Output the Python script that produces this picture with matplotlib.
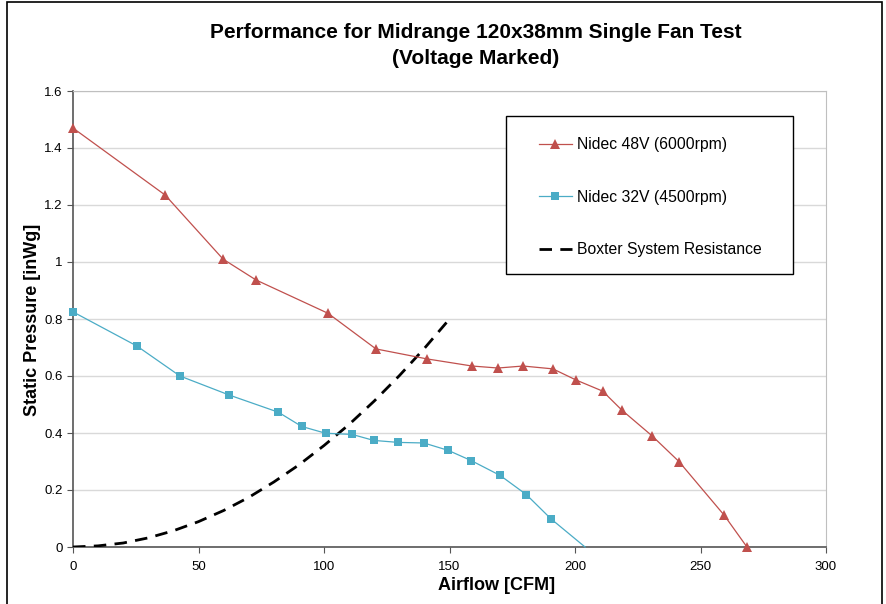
import numpy as np
import matplotlib
matplotlib.use('Agg')
import matplotlib.pyplot as plt
from matplotlib.patches import Rectangle

plt.rcParams['font.family'] = ['Liberation Sans', 'DejaVu Sans']

# Nidec 48V (6000rpm)
cfm_48 = [0, 36.7, 59.8, 72.9, 101.6, 120.7, 141, 159, 169.3, 179.3, 191.2,
          200.4, 211, 218.7, 230.7, 241.4, 259.4, 268.5]
sp_48 = [1.47, 1.235, 1.01, 0.937, 0.82, 0.695, 0.66, 0.635, 0.628, 0.635,
         0.625, 0.586, 0.547, 0.48, 0.39, 0.30, 0.112, 0.0]

# Nidec 32V (4500rpm)
cfm_32 = [0, 25.5, 42.6, 62.3, 81.8, 91.1, 100.7, 111.2, 119.8, 129.6, 139.8,
          149.5, 158.7, 170.2, 180.6, 190.4, 204]
sp_32 = [0.825, 0.705, 0.60, 0.533, 0.473, 0.423, 0.399, 0.395, 0.374, 0.367,
         0.365, 0.339, 0.303, 0.251, 0.184, 0.099, 0.0]

# Boxter system resistance
cfm_sys = [0, 10, 20, 30, 40, 50, 60, 70, 80, 90, 100, 110, 120, 130, 140, 150]
sp_sys = [0, 0.004, 0.014, 0.032, 0.057, 0.089, 0.128, 0.174, 0.228, 0.288,
          0.356, 0.43, 0.512, 0.601, 0.697, 0.80]

red = '#C0504D'
blue = '#4BACC6'
W, H = 886, 604

fig = plt.figure(figsize=(W / 100, H / 100), dpi=100)
ax = fig.add_axes([73 / W, 57 / H, 753 / W, 456 / H])

ax.plot(cfm_48, sp_48, color=red, lw=0.9, marker='^', ms=6.5,
        markeredgewidth=0, clip_on=False, zorder=4, label='Nidec 48V (6000rpm)')
ax.plot(cfm_32, sp_32, color=blue, lw=0.9, marker='s', ms=6,
        markeredgewidth=0, markevery=list(range(len(cfm_32) - 1)),
        clip_on=False, zorder=4, label='Nidec 32V (4500rpm)')
ax.plot(cfm_sys, sp_sys, color='black', lw=2, dashes=(4.5, 3),
        zorder=3, label='Boxter System Resistance')

ax.set_xlim(0, 300)
ax.set_ylim(0, 1.6)
ax.set_xticks(np.arange(0, 301, 50))
ax.set_yticks(np.arange(0, 1.61, 0.2))
ax.set_yticklabels(['0', '0.2', '0.4', '0.6', '0.8', '1', '1.2', '1.4', '1.6'])
ax.grid(axis='y', color='#d9d9d9', lw=1)
ax.set_axisbelow(True)
ax.tick_params(labelsize=9.5, length=4, color='#555555', direction='out')
ax.tick_params(axis='x', pad=6)
for s in ['top', 'right']:
    ax.spines[s].set_color('#bfbfbf')
for s in ['left', 'bottom']:
    ax.spines[s].set_color('#555555')
    ax.spines[s].set_linewidth(1.2)

ax.set_xlabel('Airflow [CFM]', fontsize=13, fontweight='bold')
ax.xaxis.set_label_coords((497 - 73) / 753, -(585 - 547) / 456)
ax.xaxis.label.set_va('center')
ax.set_ylabel('Static Pressure [inWg]', fontsize=13, fontweight='bold')
ax.yaxis.set_label_coords(-(73 - 33) / 753, (547 - 320) / 456)
ax.yaxis.label.set_va('center')

fig.text(476 / W, 1 - 33 / H, 'Performance for Midrange 120x38mm Single Fan Test',
         ha='center', va='center', fontsize=15, fontweight='bold')
fig.text(476 / W, 1 - 58 / H, '(Voltage Marked)',
         ha='center', va='center', fontsize=15, fontweight='bold')

# legend box drawn separately so the padding can match
ax.add_patch(Rectangle(((506 - 73) / 753, (547 - 274) / 456), 287 / 753, 158 / 456,
                       transform=ax.transAxes, facecolor='white',
                       edgecolor='black', lw=1, zorder=5, clip_on=False))
leg = ax.legend(loc='upper left', bbox_to_anchor=((539 - 73) / 753, (547 - 137) / 456),
                fontsize=11.3, frameon=False, labelspacing=2.4,
                borderpad=0, handlelength=2.1, handletextpad=0.3,
                borderaxespad=0)
leg.set_zorder(6)

fig.patches.append(Rectangle((7 / W, -0.01), 875 / W, 1 - 2 / H + 0.01,
                             transform=fig.transFigure, fill=False,
                             edgecolor='black', lw=1.2))

fig.savefig('out.png', dpi=100)
